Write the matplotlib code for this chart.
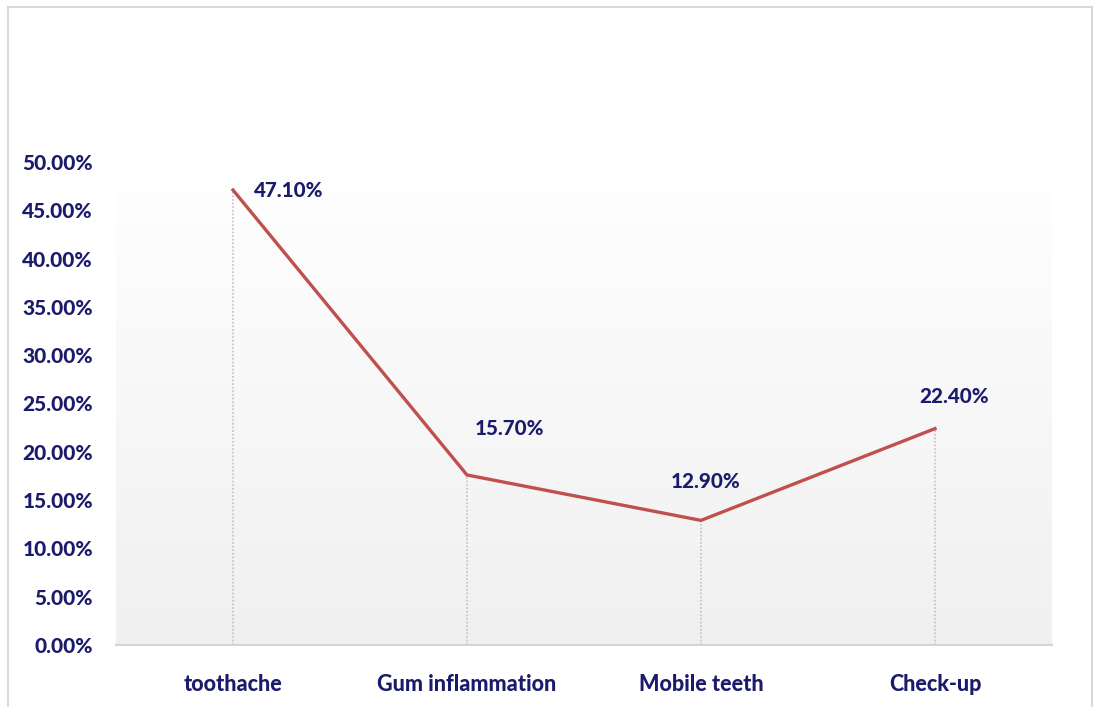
import numpy as np
import matplotlib.pyplot as plt
from matplotlib.patches import Rectangle

# data
categories = ['toothache', 'Gum inflammation', 'Mobile teeth', 'Check-up']
values = [47.1, 17.6, 12.9, 22.4]
point_labels = ['47.10%', '15.70%', '12.90%', '22.40%']
label_dx = [0.24, 0.18, 0.02, 0.08]   # label offsets in category units
label_dy = [-0.1, 4.8, 4.0, 3.3]      # label offsets in percent
yticks = np.arange(0, 55, 5)

navy = '#1b1b6b'
red = '#c0504d'
plt.rcParams['font.family'] = ['Lato', 'DejaVu Sans']
weight = 'black'

fig = plt.figure(figsize=(10.94, 7.07), dpi=100)
ax = fig.add_axes([116/1094, 62/707, 936/1094, 483/707])

x = np.arange(len(categories))
ax.set_xlim(-0.5, len(categories) - 0.5)
ax.set_ylim(0, 50)

# gradient plot area background
grad = np.linspace(0, 1, 256).reshape(-1, 1)
ax.imshow(grad, extent=(-0.5, len(categories) - 0.5, 0, 50), aspect='auto',
          cmap=plt.matplotlib.colors.LinearSegmentedColormap.from_list('g', ['#f0f0f0', '#ffffff']),
          origin='lower', zorder=0)

# drop lines
ax.vlines(x, 0, values, colors='#c8c8c8', linestyles=(0, (1, 1)), linewidth=1.3, zorder=1)
ax.plot(x, values, color=red, linewidth=2.4, zorder=3)

for xi, v, lab, dx, dy in zip(x, values, point_labels, label_dx, label_dy):
    ax.text(xi + dx, v + dy, lab, ha='center', va='center', fontsize=14.8,
            fontweight=weight, color=navy)

ax.set_xticks(x)
ax.set_xticklabels(categories)
ax.set_yticks(yticks)
ax.set_yticklabels(['{:.2f}%'.format(t) for t in yticks])
ax.tick_params(length=0, labelcolor=navy)
ax.tick_params(axis='x', pad=21, labelsize=15.5)
ax.tick_params(axis='y', pad=16.5, labelsize=15)
for t in ax.get_xticklabels() + ax.get_yticklabels():
    t.set_fontweight(weight)

for s in ['top', 'right', 'left']:
    ax.spines[s].set_visible(False)
ax.spines['bottom'].set_color('#d4d4d4')
ax.spines['bottom'].set_linewidth(1.5)

# outer chart border
fig.patches.append(Rectangle((8/1094, -0.01), 1084/1094, 1.01 - 7/707,
                             transform=fig.transFigure, fill=False,
                             edgecolor='#d9d9d9', linewidth=1.5))

fig.savefig('out.png', dpi=100)
